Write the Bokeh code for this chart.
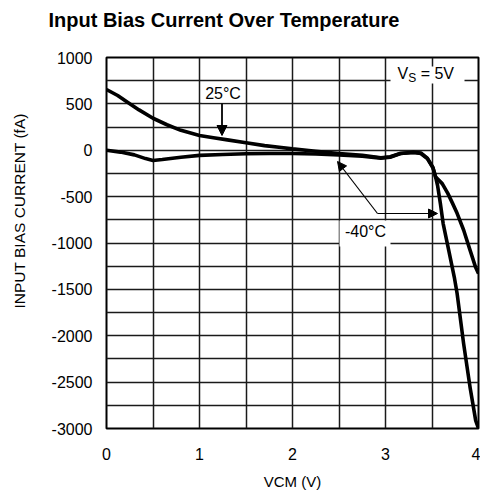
import math
from bokeh.plotting import figure
from bokeh.models import (Range1d, SingleIntervalTicker, FixedTicker, Label, Arrow,
                          NormalHead, BoxAnnotation, Title)
from bokeh.embed import file_html
from bokeh.resources import INLINE

# ---------------- data ----------------
title_text = "Input Bias Current Over Temperature"
y_axis_title = "INPUT BIAS CURRENT (fA)"
x_axis_title = "VCM (V)"

x_ticks = [0, 1, 2, 3, 4]
x_tick_labels = ["0", "1", "2", "3", "4"]
y_ticks = [1000, 500, 0, -500, -1000, -1500, -2000, -2500, -3000]
y_tick_labels = ["1000", "500", "0", "-500", "-1000", "-1500", "-2000", "-2500", "-3000"]

vcm_25c = [0, 0.12, 0.23, 0.35, 0.5, 0.65, 0.8, 1.0, 1.15, 1.3, 1.5, 1.7, 1.88, 2.0,
           2.25, 2.5, 2.75, 2.95, 3.05, 3.16, 3.3, 3.38, 3.45, 3.51, 3.54, 3.61, 3.67,
           3.72, 3.77, 3.84, 3.91, 3.97, 4.0]
ib_25c = [655, 590, 515, 435, 345, 275, 215, 160, 135, 112, 80, 50, 30, 15,
          -10, -35, -55, -80, -70, -35, -22, -30, -85, -185, -290, -360, -465,
          -570, -680, -860, -1080, -1265, -1330]

vcm_m40c = [0, 0.15, 0.3, 0.42, 0.5, 0.6, 0.8, 1.0, 1.25, 1.5, 1.75, 2.0, 2.25, 2.5,
            2.75, 2.95, 3.05, 3.16, 3.3, 3.38, 3.45, 3.51, 3.54, 3.56, 3.59, 3.62,
            3.68, 3.74, 3.77, 3.84, 3.91, 3.97, 4.0]
ib_m40c = [0, -20, -50, -90, -110, -100, -75, -55, -45, -38, -35, -35, -40, -50,
           -65, -85, -75, -35, -25, -35, -90, -190, -295, -380, -575, -790,
           -1080, -1370, -1545, -2085, -2560, -2915, -3000]

x_min, x_max = 0, 4
y_min, y_max = -3000, 1000

# ---------------- layout (picture pixels of the frame) ----------------
FL, FR, FT, FB = 106.0, 478.0, 57.0, 428.0


def dx(px):
    return x_min + (px - FL) / (FR - FL) * (x_max - x_min)


def dy(py):
    return y_max - (py - FT) / (FB - FT) * (y_max - y_min)


FONT = "Liberation Sans"

p = figure(width=480, height=500, output_backend="svg", toolbar_location=None,
           x_range=Range1d(x_min, x_max), y_range=Range1d(y_min, y_max),
           min_border_left=106, min_border_right=2, min_border_top=57,
           min_border_bottom=72, background_fill_color="white",
           border_fill_color="white")

p.title.text = title_text
p.title.text_font = FONT
p.title.text_font_size = "20px"
p.title.text_font_style = "bold"
p.title.text_color = "black"
p.title.align = "left"
p.title.offset = -58
p.title.padding = (0, 0, 0, 22)

# y axis title as a left-side title (lets it sit off-centre like the reference)
p.add_layout(Title(text=y_axis_title, align="left", offset=120, standoff=20,
                   padding=(0, 0, 0, 11),
                   text_font=FONT, text_font_size="15.5px", text_font_style="normal",
                   text_color="black"), "left")

p.outline_line_color = "black"
p.outline_line_width = 2

# axes
for ax in (p.xaxis[0], p.yaxis[0]):
    ax.axis_line_color = None
    ax.major_tick_line_color = None
    ax.minor_tick_line_color = None
    ax.major_label_text_font = FONT
    ax.major_label_text_font_size = "16px"
    ax.major_label_text_color = "black"
p.xaxis[0].ticker = FixedTicker(ticks=x_ticks)
p.xaxis[0].major_label_overrides = dict(zip(x_ticks, x_tick_labels))
p.yaxis[0].ticker = FixedTicker(ticks=y_ticks)
p.yaxis[0].major_label_overrides = dict(zip(y_ticks, y_tick_labels))
p.xaxis[0].major_label_standoff = 13
p.yaxis[0].major_label_standoff = 8

p.xaxis[0].axis_label = x_axis_title
p.xaxis[0].axis_label_text_font = FONT
p.xaxis[0].axis_label_text_font_size = "15px"
p.xaxis[0].axis_label_text_font_style = "normal"
p.xaxis[0].axis_label_text_color = "black"
p.xaxis[0].axis_label_standoff = 10

# grid
p.xgrid[0].ticker = SingleIntervalTicker(interval=0.5)
p.ygrid[0].ticker = SingleIntervalTicker(interval=250)
for g in (p.xgrid[0], p.ygrid[0]):
    g.grid_line_color = "#1a1a1a"
    g.grid_line_width = 1.5
    g.grid_line_alpha = 1.0

# curves
p.line(vcm_25c, ib_25c, line_color="black", line_width=3.6, line_join="round")
p.line(vcm_m40c, ib_m40c, line_color="black", line_width=3.6, line_join="round")

# white boxes behind in-plot labels
p.add_layout(BoxAnnotation(left=dx(390), right=dx(464), top=dy(66), bottom=dy(83),
                           fill_color="white", fill_alpha=1.0, line_alpha=0))
p.add_layout(BoxAnnotation(left=dx(339), right=dx(390), top=dy(220), bottom=dy(246),
                           fill_color="white", fill_alpha=1.0, line_alpha=0))
p.add_layout(BoxAnnotation(left=dx(201), right=dx(244), top=dy(84), bottom=dy(102),
                           fill_color="white", fill_alpha=1.0, line_alpha=0))


def lab(txt, px, py, size, align="left"):
    p.add_layout(Label(x=dx(px), y=dy(py), text=txt, text_font=FONT,
                       text_font_size=size, text_color="black", text_align=align,
                       text_baseline="alphabetic"))


NB = "\u00a0"
SHIFT = -7  # labels render about this much lower than their nominal baseline

# V_S = 5V
lab("V", 397, 80 + SHIFT, "16px")
lab("S", 407.7, 84 + SHIFT, "12px")
lab(NB + "=" + NB + "5V", 415.7, 80 + SHIFT, "16px")

# 25°C
lab("25°C", 222.5, 100 + SHIFT, "16px", align="center")
p.add_layout(Arrow(end=NormalHead(size=10, fill_color="black", line_color="black"),
                   x_start=dx(221.5), y_start=dy(103), x_end=dx(221.5), y_end=dy(135),
                   line_width=1.8, line_color="black"))

# -40°C
lab("-40°C", 365, 238 + SHIFT, "16px", align="center")
p.add_layout(Arrow(end=NormalHead(size=9, fill_color="black", line_color="black"),
                   x_start=dx(377), y_start=dy(213), x_end=dx(337), y_end=dy(161),
                   line_width=1.2, line_color="black"))
p.add_layout(Arrow(end=NormalHead(size=9, fill_color="black", line_color="black"),
                   x_start=dx(377), y_start=dy(213), x_end=dx(437), y_end=dy(213),
                   line_width=1.2, line_color="black"))

open("out.html", "w").write(file_html(p, INLINE))
